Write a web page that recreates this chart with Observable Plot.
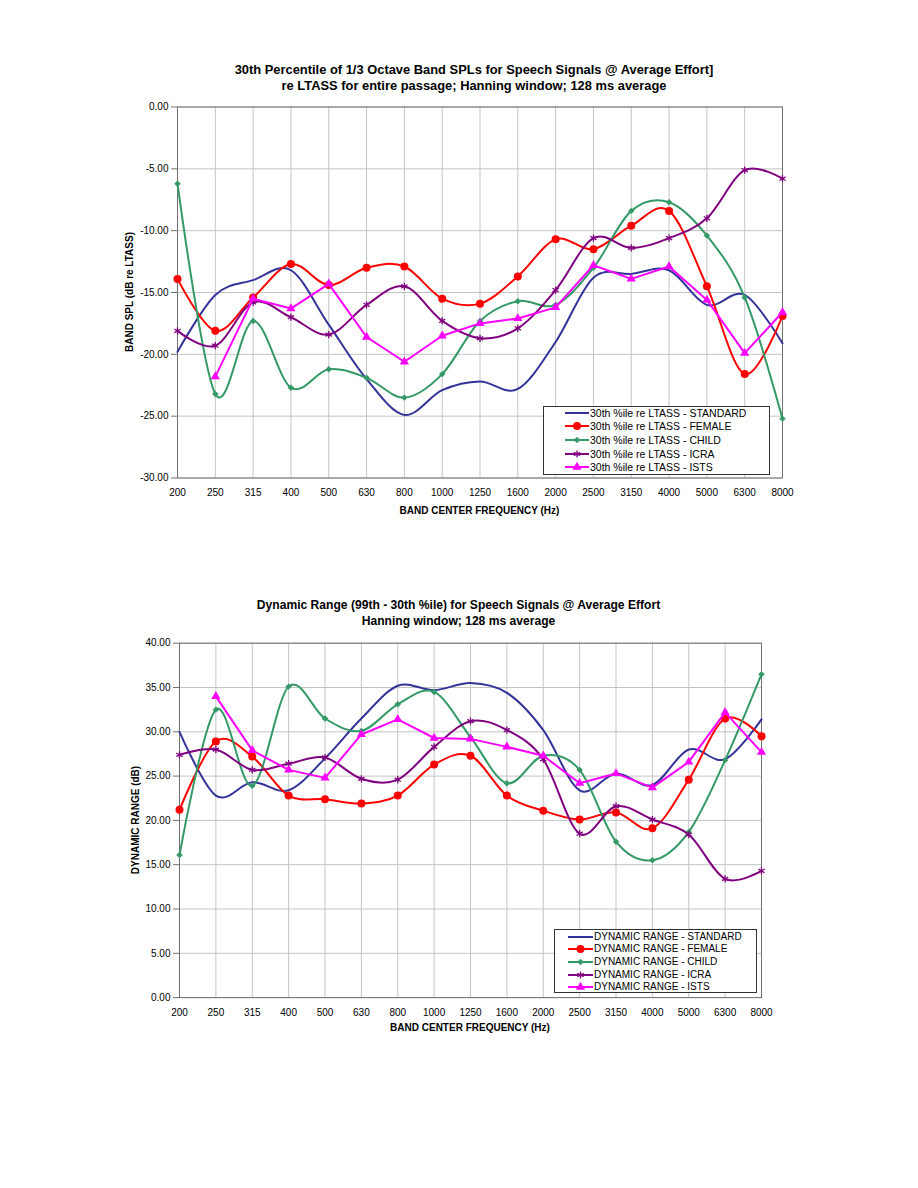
<!DOCTYPE html>
<html><head><meta charset="utf-8">
<script src="https://cdn.jsdelivr.net/npm/d3@7"></script>
<script src="https://cdn.jsdelivr.net/npm/@observablehq/plot@0.6"></script>
<style>
body{margin:0;background:#fff;font-family:"Liberation Sans",Arial,sans-serif;color:#000;}
#page{position:relative;width:918px;height:1188px;overflow:hidden;background:#fff;}
.title{position:absolute;text-align:center;font-weight:bold;white-space:nowrap;}
.chart{position:absolute;left:0;}
.axt{position:absolute;font-weight:bold;font-size:10px;white-space:nowrap;text-align:center;line-height:12px;}
.legend{position:absolute;background:#fff;border:1px solid #333;box-sizing:border-box;}
.legend .item{position:absolute;left:0;height:12px;line-height:12px;white-space:nowrap;}
.legend svg{position:absolute;top:0;}
.legend span{position:absolute;top:0;}
</style>
</head><body><div id="page"></div>
<script>
// ---------- data ----------
const freqs = ["200","250","315","400","500","630","800","1000","1250","1600","2000","2500","3150","4000","5000","6300","8000"];
const seriesNames = ["STANDARD","FEMALE","CHILD","ICRA","ISTS"];

// 30th percentile re LTASS (dB)
const p30Standard = [-19.8,-15.2,-14.0,-13.2,-17.6,-22.0,-24.9,-22.9,-22.2,-22.8,-19.0,-13.8,-13.5,-13.2,-16.0,-15.2,-19.1];
const p30Female   = [-13.9,-18.1,-15.4,-12.7,-14.4,-13.0,-12.9,-15.5,-15.9,-13.7,-10.7,-11.5,-9.6,-8.4,-14.5,-21.6,-16.9];
const p30Child    = [-6.2,-23.2,-17.3,-22.7,-21.2,-21.9,-23.5,-21.6,-17.3,-15.7,-16.0,-13.0,-8.4,-7.7,-10.4,-15.4,-25.2];
const p30Icra     = [-18.1,-19.3,-15.8,-17.0,-18.4,-16.0,-14.5,-17.3,-18.7,-17.9,-14.8,-10.6,-11.4,-10.6,-9.0,-5.1,-5.8];
const p30Ists     = [null,-21.8,-15.5,-16.3,-14.3,-18.6,-20.6,-18.5,-17.5,-17.1,-16.2,-12.8,-13.9,-12.9,-15.6,-19.9,-16.6];

// Dynamic range 99th - 30th percentile (dB)
const drStandard = [30.0,22.8,24.3,23.4,27.0,31.5,35.2,34.7,35.5,34.4,30.2,23.4,25.3,24.0,28.0,26.9,31.4];
const drFemale   = [21.2,28.9,27.2,22.8,22.4,21.9,22.8,26.3,27.3,22.8,21.1,20.1,20.9,19.1,24.6,31.5,29.5];
const drChild    = [16.1,32.5,23.9,35.1,31.5,30.1,33.1,34.5,29.4,24.2,27.3,25.7,17.6,15.5,18.7,26.8,36.5];
const drIcra     = [27.4,28.0,25.7,26.4,27.1,24.7,24.6,28.3,31.2,30.2,26.9,18.5,21.6,20.1,18.4,13.4,14.3];
const drIsts     = [null,34.0,27.9,25.7,24.8,29.7,31.4,29.3,29.2,28.3,27.3,24.2,25.3,23.7,26.6,32.2,27.7];

const p30Ticks = [0,-5,-10,-15,-20,-25,-30];
const drTicks = [0,5,10,15,20,25,30,35,40];

const topTitle = ["30th Percentile of 1/3 Octave Band SPLs for Speech Signals @ Average Effort]","re LTASS for entire passage; Hanning window; 128 ms average"];
const botTitle = ["Dynamic Range (99th - 30th %ile) for Speech Signals @ Average Effort","Hanning window; 128 ms average"];
const xTitle = "BAND CENTER FREQUENCY (Hz)";
const topYTitle = "BAND SPL (dB re LTASS)";
const botYTitle = "DYNAMIC RANGE (dB)";
const topLegendPrefix = "30th %ile re LTASS - ";
const botLegendPrefix = "DYNAMIC RANGE - ";

// ---------- styles ----------
const styles = {
  STANDARD:{color:"#333399", symbol:null, r:0, curve:"cardinal"},
  FEMALE:{color:"#ff0000", symbol:"circle", r:4, curve:"cardinal"},
  CHILD:{color:"#339966", symbol:"diamond2", r:2.9, curve:"cardinal"},
  ICRA:{color:"#800080", symbol:"asterisk", r:3.4, curve:"cardinal"},
  ISTS:{color:"#ff00ff", symbol:"triangle", r:3.4, curve:"linear"}
};

const page = document.getElementById("page");

function makeChart(o){
  const marks = [
    Plot.ruleX(freqs, {x:d=>d, stroke:"#c4c4c4", strokeWidth:1}),
    Plot.ruleY(o.ticks, {y:d=>d, stroke:"#c4c4c4", strokeWidth:1}),
    Plot.frame({stroke:"#707070"}),
    Plot.axisY({ticks:o.ticks, tickFormat:d=>d.toFixed(2), tickSize:6, tickPadding:3, stroke:"#707070", fontSize:10, label:null}),
    Plot.axisX({tickSize:0, tickPadding:11, fontSize:10, label:null})
  ];
  seriesNames.forEach((name,k)=>{
    const st = styles[name];
    const rows = [];
    o.values[k].forEach((v,i)=>{ if(v!=null) rows.push({freq:freqs[i], value:v}); });
    marks.push(Plot.line(rows, {x:"freq", y:"value", stroke:st.color, strokeWidth:2, curve:st.curve}));
    if(st.symbol){
      const isStroke = st.symbol==="asterisk";
      marks.push(Plot.dot(rows, {x:"freq", y:"value", symbol:()=>st.symbol, r:st.r,
        fill: isStroke ? "none" : st.color, stroke: isStroke ? st.color : "none", strokeWidth: isStroke ? 1.3 : 0}));
    }
  });
  const svg = Plot.plot({
    width:918, height:o.height,
    marginLeft:o.ml, marginRight:o.mr, marginTop:o.mt, marginBottom:o.mb,
    style:{fontFamily:"'Liberation Sans', Arial, sans-serif", fontSize:"10px", color:"#000", background:"transparent"},
    x:{type:"point", domain:freqs, padding:0, round:false},
    y:{domain:o.domain},
    symbol:{type:"identity"},
    marks
  });
  svg.classList.add("chart");
  svg.style.top = o.top+"px";
  page.appendChild(svg);
}

function addTitle(lines, top, lh, cx, fs){
  const d = document.createElement("div");
  d.className="title";
  d.style.top = top+"px"; d.style.left=(cx-300)+"px"; d.style.width="600px";
  d.style.lineHeight = lh+"px"; d.style.fontSize = fs+"px";
  d.innerHTML = lines.map(t=>`<div>${t.replace(/&/g,"&amp;")}</div>`).join("");
  page.appendChild(d);
}
function addXTitle(text, cx, cy){
  const d=document.createElement("div"); d.className="axt";
  d.style.left=(cx-150)+"px"; d.style.width="300px"; d.style.top=(cy-6)+"px"; d.textContent=text;
  page.appendChild(d);
}
function addYTitle(text, cx, cy){
  const d=document.createElement("div"); d.className="axt";
  d.style.left=(cx-150)+"px"; d.style.width="300px"; d.style.top=(cy-6)+"px"; d.textContent=text;
  d.style.transform="rotate(-90deg)"; d.style.transformOrigin="50% 50%";
  page.appendChild(d);
}
function swatch(name, w){
  const st = styles[name];
  const cy = 6, cx = w/2;
  let s = `<svg width="${w}" height="12"><line x1="0" x2="${w}" y1="${cy}" y2="${cy}" stroke="${st.color}" stroke-width="2"/>`;
  if(st.symbol){
    const map = {circle:d3.symbolCircle, diamond2:d3.symbolDiamond2, triangle:d3.symbolTriangle, asterisk:d3.symbolAsterisk};
    const path = d3.symbol(map[st.symbol], Math.PI*st.r*st.r)();
    const isStroke = st.symbol==="asterisk";
    s += `<path transform="translate(${cx},${cy})" d="${path}" fill="${isStroke?"none":st.color}" stroke="${isStroke?st.color:"none"}" stroke-width="1.3"/>`;
  }
  return s+"</svg>";
}
function addLegend(o){
  const d=document.createElement("div"); d.className="legend";
  d.style.left=o.left+"px"; d.style.top=o.top+"px"; d.style.width=o.width+"px"; d.style.height=o.height+"px";
  seriesNames.forEach((name,k)=>{
    const it=document.createElement("div"); it.className="item";
    it.style.top=(o.first + k*o.step - 6)+"px"; it.style.fontSize=o.fs+"px";
    it.innerHTML = `<span style="left:${o.sx}px">${swatch(name, o.sw)}</span><span style="left:${o.tx}px">${o.prefix}${name}</span>`;
    d.appendChild(it);
  });
  page.appendChild(d);
}

// ---------- top chart ----------
addTitle(topTitle, 61.5, 16.7, 474, 12.9);
makeChart({values:[p30Standard,p30Female,p30Child,p30Icra,p30Ists], ticks:p30Ticks, domain:[-30,0],
  top:95, height:430, ml:177, mr:136, mt:11.5, mb:47.5});
addXTitle(xTitle, 479.5, 510.7);
addYTitle(topYTitle, 130, 292);
addLegend({left:543, top:405.5, width:227, height:69, first:6.3, step:13.6, sx:21, sw:24, tx:46, fs:10.5, prefix:topLegendPrefix});

// ---------- bottom chart ----------
addTitle(botTitle, 598, 15.5, 458.5, 12.1);
makeChart({values:[drStandard,drFemale,drChild,drIcra,drIsts], ticks:drTicks, domain:[0,40],
  top:630, height:415, ml:179, mr:157, mt:12.7, mb:47.9});
addXTitle(xTitle, 470, 1028);
addYTitle(botYTitle, 136, 820);
addLegend({left:554, top:929.3, width:203.3, height:63.5, first:6.5, step:12.65, sx:13, sw:25, tx:39, fs:10, prefix:botLegendPrefix});
</script>
</body></html>
